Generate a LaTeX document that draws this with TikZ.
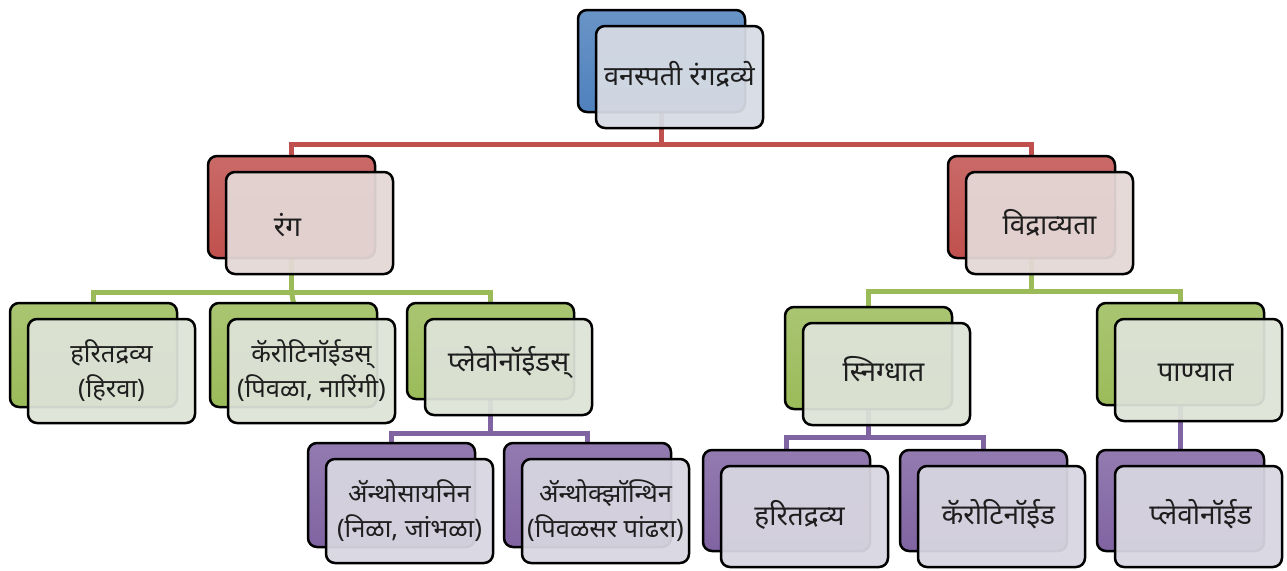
\documentclass[tikz,border=0pt]{standalone}
\usepackage{fontspec}
\newfontfamily\dev[Script=Devanagari]{Noto Sans}
\usetikzlibrary{calc}
\definecolor{cblue}{RGB}{79,129,189}
\definecolor{cred}{RGB}{192,80,77}
\definecolor{cgreen}{RGB}{155,187,89}
\definecolor{cpurple}{RGB}{128,100,162}
\definecolor{fblue}{RGB}{214,219,228}
\definecolor{fred}{RGB}{228,216,214}
\definecolor{fgreen}{RGB}{222,227,216}
\definecolor{fpurple}{RGB}{216,214,225}
\definecolor{ink}{RGB}{30,30,30}
\pgfdeclarelayer{bg}
\pgfsetlayers{bg,main}
\tikzset{
  backbox/.style={draw=black, line width=2.5pt, rounded corners=9pt,
    minimum width=167pt, inner sep=0pt, outer sep=0pt, anchor=north west,
    top color=#1!85!white, bottom color=#1},
  frontbox/.style={draw=black, line width=2.5pt, rounded corners=9pt,
    minimum width=167pt, inner sep=0pt, outer sep=0pt, anchor=north west,
    fill=#1, fill opacity=0.94},
  txt/.style={font=\dev\fontsize{28}{33}\selectfont, align=center, text=ink, inner sep=0pt},
  txttwo/.style={txt, font=\dev\fontsize{25.5}{35}\selectfont},
  conn/.style={draw=#1, line width=5pt}
}
\newcommand\boxpair[5]{%
  \node[backbox=c#2, minimum height=#5pt] (#1b) at (#3,#4) {};
  \node[frontbox=f#2, minimum height=#5pt] (#1) at ($(#1b.north west)+(18,16)$) {};
}
\begin{document}
\begin{tikzpicture}[x=1pt,y=-1pt]
\useasboundingbox (0,0) rectangle (1287,570);
% boxes
\boxpair{top}{blue}{578}{10}{102}
\boxpair{rang}{red}{208}{156}{102}
\boxpair{vid}{red}{948}{156}{102}
\boxpair{harA}{green}{10}{303}{104}
\boxpair{karA}{green}{210}{303}{104}
\boxpair{plaA}{green}{407}{303}{96}
\boxpair{snig}{green}{785}{307}{102}
\boxpair{pani}{green}{1097}{303}{102}
\boxpair{anth}{purple}{308}{443}{104}
\boxpair{anthx}{purple}{504}{443}{104}
\boxpair{harB}{purple}{703}{450}{101}
\boxpair{karB}{purple}{900}{450}{101}
\boxpair{plaB}{purple}{1097}{450}{101}
% texts
\node[txt, font=\dev\fontsize{27}{32}\selectfont] (t-top) at ($(top.center)+(0,-3)$) {वनस्पती रंगद्रव्ये};
\node[txt] (t-rang) at ($(rang.center)+(-22,2)$) {रंग};
\node[txt] (t-vid) at (vid.center) {विद्राव्यता};
\node[txttwo] (t-harA) at (harA.center) {हरितद्रव्य\\(हिरवा)};
\node[txttwo] (t-karA) at (karA.center) {कॅरोटिनॉईडस्\\(पिवळा, नारिंगी)};
\node[txt] (t-plaA) at ($(plaA.center)+(0,-5)$) {प्लेवोनॉईडस्};
\node[txt] (t-snig) at ($(snig.center)+(-3,-5)$) {स्निग्धात};
\node[txt] (t-pani) at ($(pani.center)+(-3,3)$) {पाण्यात};
\node[txttwo] (t-anth) at (anth.center) {ॲन्थोसायनिन\\(निळा, जांभळा)};
\node[txttwo] (t-anthx) at (anthx.center) {ॲन्थोक्झॉन्थिन\\(पिवळसर पांढरा)};
\node[txt] (t-harB) at ($(harB.center)+(-5,-2)$) {हरितद्रव्य};
\node[txt] (t-karB) at ($(karB.center)+(-3,-2)$) {कॅरोटिनॉईड};
\node[txt] (t-plaB) at ($(plaB.center)+(2,-2)$) {प्लेवोनॉईड};
% bus levels
\coordinate (bus1) at (0,144);
\coordinate (bus2) at (0,292);
\coordinate (bus3) at (0,291);
\coordinate (bus4) at (0,433);
\coordinate (bus5) at (0,437);
\begin{pgfonlayer}{bg}
\draw[conn=cred] (topb.south) -- (topb.south |- bus1) -| (rangb.north);
\draw[conn=cred] (topb.south |- bus1) -| (vidb.north);
\draw[conn=cgreen] (rangb.south) -- (rangb.south |- bus2) -| (harAb.north);
\draw[conn=cgreen] (rangb.south |- bus2) -- (karAb.north);
\draw[conn=cgreen] (rangb.south |- bus2) -| (plaAb.north);
\draw[conn=cgreen] (vidb.south) -- (vidb.south |- bus3) -| (snigb.north);
\draw[conn=cgreen] (vidb.south |- bus3) -| (panib.north);
\draw[conn=cpurple] (plaAb.south) -- (plaAb.south |- bus4) -| (anthb.north);
\draw[conn=cpurple] (plaAb.south |- bus4) -| (anthxb.north);
\draw[conn=cpurple] (snigb.south) -- (snigb.south |- bus5) -| (harBb.north);
\draw[conn=cpurple] (snigb.south |- bus5) -| (karBb.north);
\draw[conn=cpurple] (panib.south) -- (plaBb.north);
\end{pgfonlayer}
\end{tikzpicture}
\end{document}
